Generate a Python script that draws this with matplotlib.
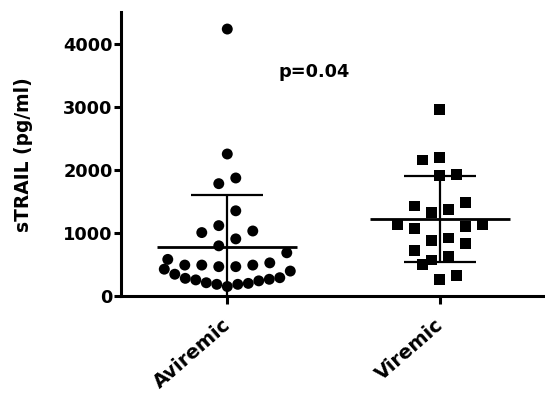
import numpy as np
import matplotlib
matplotlib.use("Agg")
import matplotlib.pyplot as plt
from matplotlib.transforms import ScaledTranslation

# ---- data ----
categories = ["Aviremic", "Viremic"]
aviremic = [4230, 2250, 1870, 1780, 1350, 1115, 1030, 1005, 905, 795, 685,
            580, 525, 490, 490, 490, 465, 465, 425, 395, 345, 290, 280, 265,
            255, 240, 210, 200, 185, 185, 150]
viremic = [2960, 2200, 2155, 1925, 1910, 1485, 1425, 1365, 1325, 1135, 1135,
           1100, 1075, 920, 880, 835, 725, 635, 570, 505, 320, 265]
y_ticks = [0, 1000, 2000, 3000, 4000]
y_label = "sTRAIL (pg/ml)"
p_label = "p=0.04"
groups = [aviremic, viremic]
markers = ["o", "s"]

# ---- figure ----
W, H = 545, 396
fig = plt.figure(figsize=(W / 100, H / 100), dpi=100)
ax_left, ax_right, ax_top, ax_bottom = 121, 544, 12, 296
ax = fig.add_axes([ax_left / W, (H - ax_bottom) / H,
                   (ax_right - ax_left) / W, (ax_bottom - ax_top) / H])
xlim = (-0.5, 1.49)
ylim = (0, 4500)
ax.set_xlim(*xlim)
ax.set_ylim(*ylim)

px_per_x = (ax_right - ax_left) / (xlim[1] - xlim[0])
px_per_y = (ax_bottom - ax_top) / (ylim[1] - ylim[0])


def row_offsets(values, row_h_px=18.0, step_px=17.0, max_w_px=126.0):
    """Prism-like scatter: bin values into rows, spread each row sideways."""
    vals = np.asarray(values, float)
    order = np.argsort(vals, kind="stable")
    offs = np.zeros(len(vals))
    rows, cur, start = [], [], None
    for i in order:
        ypx = vals[i] * px_per_y
        if start is None or ypx - start > row_h_px:
            if cur:
                rows.append(cur)
            cur, start = [i], ypx
        else:
            cur.append(i)
    if cur:
        rows.append(cur)
    for row in rows:
        n = len(row)
        step = step_px if n < 2 else min(step_px, max_w_px / (n - 1))
        for k, i in enumerate(row):
            if n % 2:
                slot = 0 if k == 0 else ((k + 1) // 2) * (1 if k % 2 else -1)
            else:
                slot = (k // 2 + 0.5) * (-1 if k % 2 == 0 else 1)
            offs[i] = slot * step / px_per_x
    return offs


for i, (vals, mk) in enumerate(zip(groups, markers)):
    vals = np.asarray(vals, float)
    offs = row_offsets(vals)
    ax.scatter(i + offs, vals, marker=mk, s=62 if mk == "o" else 60,
               color="black", edgecolors="none", zorder=3, clip_on=False)
    m = vals.mean()
    sd = vals.std(ddof=1)
    ax.hlines(m, i - 0.33, i + 0.33, color="black", lw=2.0, zorder=4)
    ax.vlines(i, max(m - sd, 0), m + sd, color="black", lw=1.6, zorder=4)
    ax.hlines([m + sd], i - 0.17, i + 0.17, color="black", lw=1.6, zorder=4)
    if m - sd > 0:
        ax.hlines([m - sd], i - 0.17, i + 0.17, color="black", lw=1.6, zorder=4)

# axes styling
for s in ["top", "right"]:
    ax.spines[s].set_visible(False)
for s in ["left", "bottom"]:
    ax.spines[s].set_linewidth(2.2)
ax.set_yticks(y_ticks)
ax.set_yticklabels([str(t) for t in y_ticks], fontsize=12.8, fontweight="bold",
                   family="DejaVu Sans")
ax.set_xticks(range(len(categories)))
ax.set_xticklabels([])
ax.tick_params(axis="y", length=5, width=2.2, pad=1)
ax.tick_params(axis="x", length=6, width=2.2)

# category labels, rotated, anchored below each tick
label_tr = ax.get_xaxis_transform() + ScaledTranslation(-0.05, -0.19,
                                                        fig.dpi_scale_trans)
for i, cat in enumerate(categories):
    ax.text(i, 0, cat, transform=label_tr, rotation=41, ha="right", va="top",
            rotation_mode="anchor", fontsize=14, fontweight="bold",
            family="DejaVu Sans", clip_on=False)

fig.text(24 / W, 1 - 155 / H, y_label, rotation=90, ha="center", va="center",
         fontsize=13.4, fontweight="bold", family="DejaVu Sans")
ax.text(0.41, 3555, p_label, ha="center", va="center", fontsize=12.8,
        fontweight="bold", family="DejaVu Sans")

fig.savefig("out.png", dpi=100)
